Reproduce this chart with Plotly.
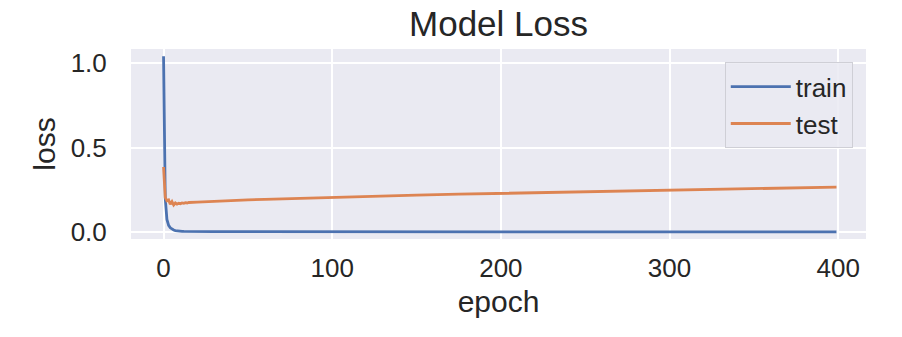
import plotly.graph_objects as go

# epochs (dense at the start, sparse later)
epochs = [0, 1, 2, 3, 4, 5, 6, 7, 8, 9, 10, 11, 12, 13, 14, 15,
          20, 25, 30, 40, 50, 60, 80, 100, 125, 150, 175, 200,
          250, 300, 350, 399]

train_loss = [1.04, 0.20, 0.075, 0.04, 0.025, 0.017, 0.012, 0.009, 0.007, 0.006,
              0.005, 0.0045, 0.004, 0.0038, 0.0036, 0.0034,
              0.003, 0.0027, 0.0025, 0.0022, 0.002, 0.0018, 0.0016, 0.0014,
              0.0013, 0.0012, 0.0011, 0.001, 0.0009, 0.0009, 0.0008, 0.0008]

test_loss = [0.385, 0.205, 0.185, 0.19, 0.165, 0.18, 0.16, 0.172, 0.165, 0.17,
             0.168, 0.172, 0.17, 0.174, 0.172, 0.175,
             0.177, 0.18, 0.183, 0.187, 0.191, 0.194, 0.200, 0.207,
             0.212, 0.218, 0.224, 0.229, 0.238, 0.248, 0.257, 0.266]

x_ticks = [0, 100, 200, 300, 400]
y_ticks = [0.0, 0.5, 1.0]

FONT = "Liberation Sans, Arial, sans-serif"

fig = go.Figure()
fig.add_trace(go.Scatter(x=epochs, y=train_loss, mode="lines", name="train",
                         line=dict(color="#4C72B0", width=2.8)))
fig.add_trace(go.Scatter(x=epochs, y=test_loss, mode="lines", name="test",
                         line=dict(color="#DD8452", width=2.8)))

fig.update_layout(
    width=902, height=337,
    margin=dict(l=131, r=36, t=49, b=98),
    paper_bgcolor="white",
    plot_bgcolor="#EAEAF2",
    font=dict(family=FONT, size=26, color="#262626"),
    title=dict(text="Model Loss", x=0.5527, xanchor="center", y=0.929, yanchor="middle",
               font=dict(size=35, color="#262626")),
    legend=dict(x=0.982, xanchor="right", y=0.93, yanchor="top",
                bgcolor="rgba(234,234,242,0.85)", bordercolor="#CFCFD6", borderwidth=1,
                font=dict(size=26, color="#262626"), itemwidth=60),
    showlegend=True,
)

fig.update_xaxes(
    range=[-19.3, 416.5], tickvals=x_ticks, ticktext=[str(v) for v in x_ticks],
    showgrid=True, gridcolor="white", gridwidth=1.8, zeroline=False, showline=False,
    ticks="outside", ticklen=6, tickcolor="rgba(0,0,0,0)", automargin=False,
    title=dict(text="epoch", font=dict(size=30), standoff=8),
)
fig.update_yaxes(
    range=[-0.041, 1.083], tickvals=y_ticks, tickformat=".1f",
    showgrid=True, gridcolor="white", gridwidth=1.8, zeroline=False, showline=False,
    ticks="outside", ticklen=18, tickcolor="rgba(0,0,0,0)", automargin=False,
    title=dict(text="loss", font=dict(size=30), standoff=6),
)

# drop the default 8px body margin so the figure sits at the page corner
fig.write_html("out.html", config={"displayModeBar": False},
               post_script="document.body.style.margin='0';")
